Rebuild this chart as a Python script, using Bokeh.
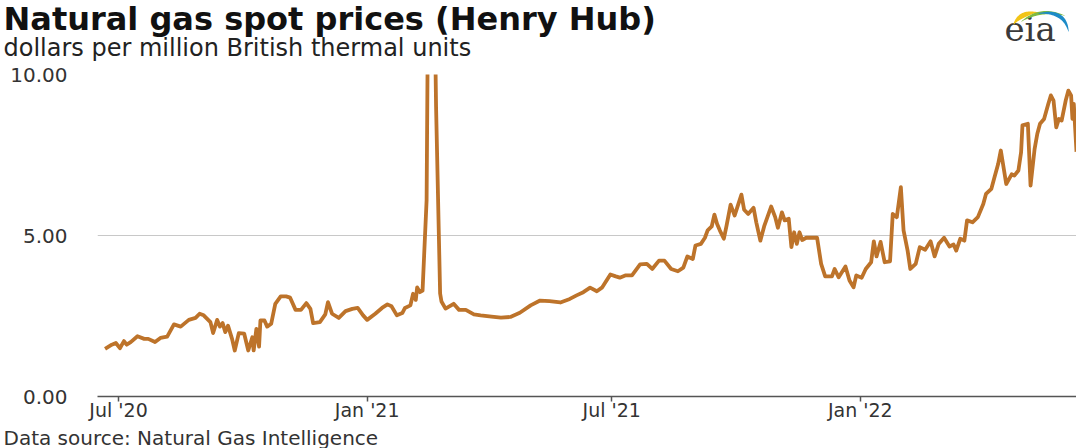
import numpy as np
import pandas as pd
from bokeh.plotting import figure
from bokeh.layouts import column, row
from bokeh.models import Range1d, FixedTicker, NumeralTickFormatter, ColumnDataSource
from bokeh.core.properties import value
from bokeh.embed import file_html
from bokeh.resources import INLINE

# ---------------- data ----------------
dates = [
    "2020-06-21", "2020-06-26", "2020-06-29", "2020-07-02", "2020-07-05", "2020-07-07", "2020-07-10",
    "2020-07-15", "2020-07-20", "2020-07-23", "2020-07-28", "2020-08-01", "2020-08-06", "2020-08-11",
    "2020-08-16", "2020-08-22", "2020-08-27", "2020-08-30", "2020-09-02", "2020-09-07", "2020-09-09",
    "2020-09-12", "2020-09-14", "2020-09-16", "2020-09-18", "2020-09-20", "2020-09-23", "2020-09-25",
    "2020-09-28", "2020-10-02", "2020-10-05", "2020-10-08", "2020-10-09", "2020-10-11", "2020-10-13",
    "2020-10-14", "2020-10-17", "2020-10-19", "2020-10-22", "2020-10-25", "2020-10-29", "2020-11-02",
    "2020-11-05", "2020-11-09", "2020-11-13", "2020-11-17", "2020-11-20", "2020-11-22", "2020-11-27",
    "2020-12-01", "2020-12-03", "2020-12-06", "2020-12-11", "2020-12-16", "2020-12-21", "2020-12-25",
    "2020-12-29", "2021-01-01", "2021-01-07", "2021-01-12", "2021-01-16", "2021-01-19", "2021-01-23",
    "2021-01-27", "2021-01-29", "2021-02-02", "2021-02-04", "2021-02-06", "2021-02-07", "2021-02-09",
    "2021-02-11", "2021-02-14", "2021-02-17", "2021-02-19", "2021-02-21", "2021-02-24", "2021-02-25",
    "2021-02-28", "2021-03-06", "2021-03-10", "2021-03-15", "2021-03-21", "2021-03-26", "2021-04-03",
    "2021-04-10", "2021-04-17", "2021-04-24", "2021-05-02", "2021-05-09", "2021-05-16", "2021-05-24",
    "2021-05-31", "2021-06-05", "2021-06-10", "2021-06-15", "2021-06-20", "2021-06-24", "2021-06-30",
    "2021-07-04", "2021-07-07", "2021-07-11", "2021-07-16", "2021-07-22", "2021-07-27", "2021-07-31",
    "2021-08-05", "2021-08-09", "2021-08-14", "2021-08-19", "2021-08-23", "2021-08-26", "2021-08-30",
    "2021-09-01", "2021-09-05", "2021-09-08", "2021-09-10", "2021-09-13", "2021-09-15", "2021-09-17",
    "2021-09-19", "2021-09-22", "2021-09-24", "2021-09-27", "2021-09-30", "2021-10-02", "2021-10-05",
    "2021-10-07", "2021-10-10", "2021-10-14", "2021-10-16", "2021-10-19", "2021-10-22", "2021-10-27",
    "2021-10-30", "2021-11-01", "2021-11-04", "2021-11-06", "2021-11-09", "2021-11-11", "2021-11-13",
    "2021-11-15", "2021-11-17", "2021-11-19", "2021-11-22", "2021-11-30", "2021-12-03", "2021-12-06",
    "2021-12-11", "2021-12-13", "2021-12-16", "2021-12-21", "2021-12-24", "2021-12-27", "2021-12-29",
    "2022-01-02", "2022-01-05", "2022-01-09", "2022-01-11", "2022-01-13", "2022-01-16", "2022-01-19",
    "2022-01-23", "2022-01-25", "2022-01-28", "2022-01-31", "2022-02-02", "2022-02-05", "2022-02-07",
    "2022-02-11", "2022-02-14", "2022-02-18", "2022-02-22", "2022-02-25", "2022-02-28", "2022-03-04",
    "2022-03-08", "2022-03-11", "2022-03-13", "2022-03-16", "2022-03-19", "2022-03-21", "2022-03-25",
    "2022-03-29", "2022-04-02", "2022-04-04", "2022-04-08", "2022-04-10", "2022-04-13", "2022-04-15",
    "2022-04-19", "2022-04-23", "2022-04-25", "2022-04-28", "2022-04-30", "2022-05-01", "2022-05-05",
    "2022-05-07", "2022-05-10", "2022-05-12", "2022-05-14", "2022-05-17", "2022-05-20", "2022-05-22",
    "2022-05-24", "2022-05-26", "2022-05-28", "2022-05-30", "2022-06-02", "2022-06-04", "2022-06-06",
    "2022-06-07", "2022-06-08", "2022-06-10",
]
prices = [
    1.48, 1.61, 1.66, 1.50, 1.72, 1.61, 1.69,
    1.87, 1.79, 1.79, 1.69, 1.82, 1.86, 2.24,
    2.17, 2.38, 2.44, 2.57, 2.52, 2.31, 1.97,
    2.38, 2.17, 2.28, 2.00, 2.20, 1.79, 1.43,
    1.97, 1.95, 1.43, 1.84, 1.43, 2.10, 1.55,
    2.36, 2.36, 2.17, 2.26, 2.88, 3.11, 3.11,
    3.07, 2.69, 2.69, 2.90, 2.72, 2.28, 2.31,
    2.55, 2.93, 2.57, 2.44, 2.65, 2.72, 2.75,
    2.52, 2.38, 2.57, 2.75, 2.86, 2.80, 2.52,
    2.59, 2.75, 2.83, 3.19, 3.00, 3.39, 3.24,
    3.29, 6.10, 23.86, 15.00, 9.00, 3.20, 2.95,
    2.73, 2.88, 2.69, 2.69, 2.55, 2.52, 2.48,
    2.45, 2.47, 2.60, 2.83, 2.98, 2.96, 2.92,
    3.03, 3.14, 3.24, 3.38, 3.27, 3.39, 3.79,
    3.73, 3.69, 3.76, 3.76, 4.10, 4.12, 3.96,
    4.22, 4.22, 3.96, 3.89, 4.00, 4.35, 4.27,
    4.69, 4.74, 4.93, 5.16, 5.28, 5.65, 5.36,
    5.16, 4.90, 5.31, 5.96, 5.62, 5.88, 6.27,
    5.80, 5.67, 5.86, 5.41, 4.84, 5.31, 5.90,
    5.57, 5.24, 5.72, 5.47, 5.52, 4.64, 5.10,
    4.74, 5.10, 4.86, 4.93, 4.93, 4.12, 3.73,
    3.73, 3.96, 3.70, 4.04, 3.60, 3.39, 3.76,
    3.69, 3.96, 4.17, 4.82, 4.35, 4.80, 4.17,
    4.20, 5.67, 5.57, 6.50, 5.16, 4.53, 3.96,
    4.12, 4.64, 4.56, 4.82, 4.35, 4.74, 4.93,
    4.66, 4.72, 4.53, 4.90, 4.84, 5.47, 5.41,
    5.57, 5.98, 6.29, 6.45, 6.76, 7.22, 7.64,
    6.60, 6.90, 6.86, 7.02, 7.59, 8.42, 8.47,
    6.55, 7.69, 8.16, 8.47, 8.62, 9.07, 9.35,
    9.19, 8.36, 8.62, 8.57, 9.19, 9.50, 9.35,
    8.62, 9.09, 7.60,
]

tick_dates = ["2020-07-01", "2021-01-01", "2021-07-01", "2022-01-01"]
tick_labels = ["Jul '20", "Jan '21", "Jul '21", "Jan '22"]
y_ticks = [0, 5, 10]

title_text = "Natural gas spot prices (Henry Hub)"
subtitle_text = "dollars per million British thermal units"
source_text = "Data source: Natural Gas Intelligence"

W = 1076
H_HEAD, H_MAIN, H_FOOT = 64, 362, 22
FONT = "DejaVu Sans"


def blank_panel(h):
    f = figure(width=W, height=h, x_range=Range1d(0, W), y_range=Range1d(h, 0),
               output_backend="svg", toolbar_location=None,
               x_axis_location=None, y_axis_location=None,
               min_border=0, min_border_left=0, min_border_right=0,
               min_border_top=0, min_border_bottom=0)
    f.outline_line_color = None
    f.xgrid.visible = False
    f.ygrid.visible = False
    f.background_fill_color = "white"
    f.border_fill_color = "white"
    return f


# ---------------- header: title, subtitle, logo ----------------
head = blank_panel(H_HEAD)
head.text(x=[3], y=[18.5], text=[title_text], text_font=value(FONT), text_font_style="bold",
          text_font_size="32px", text_color="#111111", text_baseline="alphabetic")
head.text(x=[3], y=[47], text=[subtitle_text], text_font=value(FONT),
          text_font_size="24px", text_color="#222222", text_baseline="alphabetic")
head.text(x=[1004], y=[28.5], text=["eia"], text_font=value("DejaVu Serif"),
          text_font_size="34px", text_color="#3a3a3a", text_baseline="alphabetic")


def swoosh(p0, p1, p2, w, n=30):
    t = np.linspace(0, 1, n)
    p0, p1, p2 = map(np.array, (p0, p1, p2))
    b = ((1 - t) ** 2)[:, None] * p0 + (2 * (1 - t) * t)[:, None] * p1 + (t ** 2)[:, None] * p2
    d = (2 * (1 - t))[:, None] * (p1 - p0) + (2 * t)[:, None] * (p2 - p1)
    nrm = np.stack([-d[:, 1], d[:, 0]], axis=1)
    nrm /= np.linalg.norm(nrm, axis=1)[:, None]
    th = (w * np.sin(np.pi * t) + 0.4)[:, None]
    poly = np.vstack([b + nrm * th / 2, (b - nrm * th / 2)[::-1]])
    return list(poly[:, 0]), list(poly[:, 1])


logo_xs, logo_ys = [], []
logo_cols = ["#F2C417", "#7DBA42", "#1D8BC7"]
for (a, b_, c, w) in [
    ((1013, 24), (1020, 12), (1037, 12), 4.5),
    ((1021, 21), (1040, 7), (1064, 15), 3.0),
    ((1038, 13), (1064, 9), (1068, 31), 3.5),
]:
    xs, ys = swoosh(a, b_, c, w)
    logo_xs.append(xs)
    logo_ys.append(ys)
head.patches(xs=logo_xs, ys=logo_ys, fill_color=logo_cols, line_color=None)

# ---------------- main chart ----------------
src = ColumnDataSource(dict(date=pd.to_datetime(dates), price=prices))

p = figure(
    width=W, height=H_MAIN, x_axis_type="datetime",
    x_range=Range1d(pd.Timestamp("2020-06-15 10:00"), pd.Timestamp(dates[-1])),
    y_range=Range1d(0, 10),
    output_backend="svg", toolbar_location=None,
    min_border_left=97, min_border_right=0, min_border_top=10, min_border_bottom=30,
)
p.outline_line_color = None
p.background_fill_color = "white"
p.border_fill_color = "white"

p.line(x="date", y="price", source=src, line_color="#BD732A", line_width=3.8, line_join="round")

p.yaxis.ticker = FixedTicker(ticks=y_ticks)
p.yaxis.formatter = NumeralTickFormatter(format="0.00")
p.yaxis.axis_line_color = None
p.yaxis.major_tick_line_color = None
p.yaxis.minor_tick_line_color = None
p.yaxis.major_tick_out = 0
p.yaxis.major_label_standoff = 30
p.yaxis.major_label_text_font = FONT
p.yaxis.major_label_text_font_size = "20px"
p.yaxis.major_label_text_color = "#333333"
p.ygrid.grid_line_color = "#c8c8c8"
p.ygrid.grid_line_width = 1.2

tick_ms = [pd.Timestamp(d).value / 1e6 for d in tick_dates]
p.xaxis.ticker = FixedTicker(ticks=tick_ms)
p.xaxis.major_label_overrides = {t: lab for t, lab in zip(tick_ms, tick_labels)}
p.xaxis.axis_line_color = "#555555"
p.xaxis.axis_line_width = 1.5
p.xaxis.major_tick_line_color = "#555555"
p.xaxis.major_tick_line_width = 1.5
p.xaxis.major_tick_in = 0
p.xaxis.major_tick_out = 5
p.xaxis.minor_tick_line_color = None
p.xaxis.major_label_standoff = -3
p.xaxis.major_label_text_font = FONT
p.xaxis.major_label_text_font_size = "19px"
p.xaxis.major_label_text_color = "#333333"
p.xgrid.grid_line_color = None

# ---------------- footer: source ----------------
foot = blank_panel(H_FOOT)
foot.text(x=[3], y=[11], text=[source_text], text_font=value(FONT),
          text_font_size="20px", text_color="#333333", text_baseline="alphabetic")

layout = column(row(head), p, row(foot), spacing=0)
open("out.html", "w").write(file_html(layout, INLINE))
